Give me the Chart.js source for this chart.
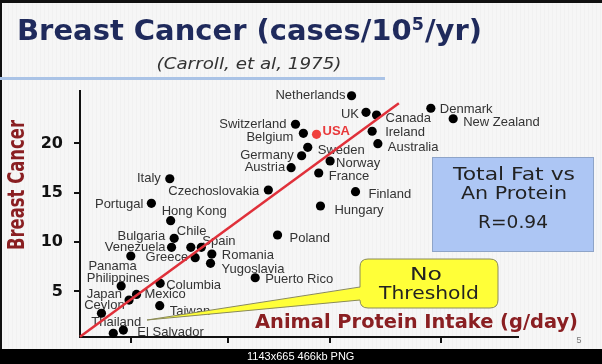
<!DOCTYPE html>
<html>
<head>
<meta charset="utf-8">
<script src="https://cdn.jsdelivr.net/npm/chart.js@4.4.1/dist/chart.umd.min.js"></script>
<style>
  html, body { margin: 0; padding: 0; background: #f6f6f6; }
  #wrap { width: 602px; height: 364px; position: relative; }
</style>
</head>
<body>
<div id="wrap"><canvas id="c"></canvas></div>
<script>
// ---- data ----
const countries = ["Netherlands","UK","Canada","Denmark","New Zealand","Switzerland","Belgium","USA","Ireland","Australia","Sweden","Germany","Norway","Austria","France","Czechoslovakia","Finland","Hungary","Italy","Portugal","Hong Kong","Bulgaria","Venezuela","Chile","Spain","Greece","Romania","Yugoslavia","Panama","Philippines","Columbia","Japan","Mexico","Ceylon","Taiwan","Thailand","El Salvador","Puerto Rico","Poland"];
const proteinIntake = [62.0,65.3,67.7,80.1,85.2,49.2,51.0,54.0,66.7,68.0,52.0,50.6,57.1,48.2,54.5,43.0,62.9,54.9,20.5,16.3,20.7,21.5,20.9,25.3,27.7,26.3,30.1,29.8,11.6,9.4,18.3,11.2,12.9,4.9,18.2,7.6,9.9,40.0,45.1];
const cancerRate    = [24.83,23.15,22.88,23.56,22.50,21.94,21.02,20.92,21.23,19.97,19.60,18.75,18.22,17.54,17.00,15.28,15.11,13.66,16.42,13.93,12.17,10.38,9.47,9.47,9.47,8.42,8.79,7.85,8.59,5.55,5.82,4.13,4.70,2.79,3.56,0.76,1.09,6.39,10.72];
const fitLineX = [0, 72.8];
const fitLineY = [0.42, 24.06];
const yTickValues = [5, 10, 15, 20];
const xTickValues = [11.6, 33.8, 57.1, 82.4];

// label placement: [align, dx, dy]
const labelPlacement = {
  "Netherlands":["right",-6,0], "UK":["right",-7,2], "Canada":["left",9,3], "Denmark":["left",9,1],
  "New Zealand":["left",10,4], "Switzerland":["right",-9,0], "Belgium":["right",-10,4], "USA":["left",6,-3],
  "Ireland":["left",13,1], "Australia":["left",10,4], "Sweden":["left",10,3], "Germany":["right",-8,0],
  "Norway":["left",6,2], "Austria":["right",-6,0], "France":["left",10,3], "Czechoslovakia":["right",-9,1],
  "Finland":["left",13,3], "Hungary":["left",14,4], "Italy":["right",-9,0], "Portugal":["right",-8,1],
  "Hong Kong":["left",-9,-9], "Bulgaria":["right",-9,-2], "Venezuela":["right",-6,0], "Chile":["left",-14,-16],
  "Spain":["left",1,-6], "Greece":["right",-7,0], "Romania":["left",10,1], "Yugoslavia":["left",11,6],
  "Panama":["right",6,10], "Philippines":["center",-3,-8], "Columbia":["left",6,2], "Japan":["right",-7,-6],
  "Mexico":["left",8,0], "Ceylon":["center",3,-8], "Taiwan":["left",10,6], "Thailand":["center",3,-11],
  "El Salvador":["left",14,2], "Puerto Rico":["left",10,2], "Poland":["left",12,3]
};

function fitText(ctx, text, x, y, width, font, color, align) {
  ctx.save();
  ctx.font = font; ctx.fillStyle = color; ctx.textBaseline = 'middle'; ctx.textAlign = 'left';
  const w = ctx.measureText(text).width;
  const s = width / w;
  const left = align === 'center' ? x - width / 2 : x;
  ctx.translate(left, y); ctx.scale(s, 1);
  ctx.fillText(text, 0, 0);
  ctx.restore();
}

function roundRect(ctx, x, y, w, h, r) {
  ctx.beginPath();
  ctx.moveTo(x + r, y); ctx.lineTo(x + w - r, y); ctx.quadraticCurveTo(x + w, y, x + w, y + r);
  ctx.lineTo(x + w, y + h - r); ctx.quadraticCurveTo(x + w, y + h, x + w - r, y + h);
  ctx.lineTo(x + r, y + h); ctx.quadraticCurveTo(x, y + h, x, y + h - r);
  ctx.lineTo(x, y + r); ctx.quadraticCurveTo(x, y, x + r, y);
  ctx.closePath();
}

const decor = {
  id: 'decor',
  beforeDraw(chart) {
    const ctx = chart.ctx;
    ctx.save();
    ctx.fillStyle = '#f6f6f6'; ctx.fillRect(0, 0, 602, 364);
    // faint stripes
    ctx.fillStyle = 'rgba(0,0,0,0.018)';
    for (let x = 0; x < 602; x += 4) ctx.fillRect(x, 0, 1, 364);
    // top frame
    ctx.fillStyle = '#111'; ctx.fillRect(0, 0, 602, 3); ctx.fillRect(0, 0, 2, 364);
    // blue rule under subtitle
    ctx.fillStyle = '#aac3e6'; ctx.fillRect(0, 77, 385, 3);
    // title with superscript
    const tf = 'bold 28px "DejaVu Sans"';
    ctx.font = tf;
    const p1 = 'Breast Cancer (cases/10', p3 = '/yr)';
    const sf = 'bold 17px "DejaVu Sans"';
    const w1 = ctx.measureText(p1).width, w3 = ctx.measureText(p3).width;
    ctx.font = sf; const w2 = ctx.measureText('5').width + 1;
    const s = 465 / (w1 + w2 + w3);
    ctx.translate(17, 33); ctx.scale(s, 1);
    ctx.fillStyle = '#1f2a5c'; ctx.textBaseline = 'middle'; ctx.textAlign = 'left';
    ctx.font = tf; ctx.fillText(p1, 0, 0);
    ctx.font = sf; ctx.fillText('5', w1, -7);
    ctx.font = tf; ctx.fillText(p3, w1 + w2, 0);
    ctx.restore();
    fitText(ctx, '(Carroll, et al, 1975)', 249, 65, 185, 'oblique 15px "DejaVu Sans"', '#333', 'center');
  },
  beforeDatasetsDraw(chart) {
    const ctx = chart.ctx;
    const meta = chart.getDatasetMeta(1);
    ctx.save();
    ctx.textBaseline = 'middle';
    countries.forEach((name, i) => {
      const el = meta.data[i];
      const [align, dx, dy] = labelPlacement[name];
      if (name === 'USA') { ctx.font = 'bold 13px "Liberation Sans"'; ctx.fillStyle = '#e8383a'; }
      else { ctx.font = '13px "Liberation Sans"'; ctx.fillStyle = '#333'; }
      ctx.textAlign = align;
      ctx.fillText(name, el.x + dx, el.y + dy);
    });
    ctx.restore();
  },
  afterDraw(chart) {
    const ctx = chart.ctx;
    ctx.save();
    // axis titles
    ctx.save();
    ctx.translate(18, 185); ctx.rotate(-Math.PI / 2);
    fitText(ctx, 'Breast Cancer', 0, 0, 130, 'bold 23px "DejaVu Sans"', '#8a1f22', 'center');
    ctx.restore();
    fitText(ctx, 'Animal Protein Intake (g/day)', 255, 323, 323, 'bold 19px "DejaVu Sans"', '#8a1f22', 'left');
    // blue box
    ctx.fillStyle = '#adc6f4'; ctx.fillRect(432, 157, 162, 95);
    ctx.strokeStyle = '#8ea4c8'; ctx.lineWidth = 1; ctx.strokeRect(432.5, 157.5, 161, 94);
    fitText(ctx, 'Total Fat vs', 514, 175, 122, '18px "DejaVu Sans"', '#222', 'center');
    fitText(ctx, 'An Protein', 514, 194, 106, '18px "DejaVu Sans"', '#222', 'center');
    fitText(ctx, 'R=0.94', 513, 223, 70, '18px "DejaVu Sans"', '#222', 'center');
    // callout
    ctx.fillStyle = '#ffff38'; ctx.strokeStyle = '#8a8a5a'; ctx.lineWidth = 1;
    roundRect(ctx, 360, 259, 138, 49, 8);
    ctx.fill(); ctx.stroke();
    ctx.beginPath();
    ctx.moveTo(362, 287); ctx.lineTo(147, 320); ctx.lineTo(362, 300); ctx.closePath();
    ctx.fill();
    ctx.beginPath(); ctx.moveTo(360, 287); ctx.lineTo(147, 320); ctx.lineTo(360, 300); ctx.stroke();
    fitText(ctx, 'No', 426, 275, 32, '18px "DejaVu Sans"', '#222', 'center');
    fitText(ctx, 'Threshold', 429, 294, 100, '18px "DejaVu Sans"', '#222', 'center');
    // slide number
    ctx.fillStyle = '#777'; ctx.font = '9px "Liberation Sans"'; ctx.textAlign = 'center'; ctx.textBaseline = 'middle';
    ctx.fillText('5', 579, 341);
    // bottom bar
    ctx.fillStyle = '#000'; ctx.fillRect(0, 349, 602, 15);
    ctx.fillStyle = '#fff'; ctx.font = '11px "Liberation Sans"'; ctx.textAlign = 'left';
    ctx.fillText('1143x665 466kb PNG', 247, 357);
    ctx.restore();
  }
};

new Chart(document.getElementById('c'), {
  type: 'scatter',
  data: {
    datasets: [
      {
        type: 'line',
        data: fitLineX.map((x, i) => ({ x, y: fitLineY[i] })),
        borderColor: '#e0303a', borderWidth: 2.5, pointRadius: 0, fill: false, order: 0, clip: false
      },
      {
        data: proteinIntake.map((x, i) => ({ x, y: cancerRate[i] })),
        pointRadius: 4.6, pointHoverRadius: 4.6, borderWidth: 0,
        pointBackgroundColor: countries.map(c => c === 'USA' ? '#f0403c' : '#000'),
        order: 1, clip: false
      }
    ]
  },
  options: {
    responsive: true, maintainAspectRatio: false, animation: false,
    events: [],
    layout: { padding: { top: 91, right: 84, bottom: 0, left: 0 } },
    plugins: { legend: { display: false }, tooltip: { enabled: false } },
    scales: {
      x: {
        type: 'linear', min: 0, max: 100,
        afterFit(s) { s.height = 27; },
        afterBuildTicks(s) { s.ticks = xTickValues.map(v => ({ value: v })); },
        ticks: { display: false },
        grid: { drawOnChartArea: false, drawTicks: true, tickLength: 6, color: '#111', lineWidth: 2 },
        border: { display: true, color: '#111', width: 2 }
      },
      y: {
        type: 'linear', min: 0.385, max: 25.31,
        afterFit(s) { s.width = 80; },
        afterBuildTicks(s) { s.ticks = yTickValues.map(v => ({ value: v })); },
        ticks: { padding: 11, color: '#111', font: { family: 'DejaVu Sans', weight: 'bold', size: 16 }, callback: v => String(v) },
        grid: { drawOnChartArea: false, drawTicks: true, tickLength: 6, color: '#111', lineWidth: 2 },
        border: { display: true, color: '#111', width: 2 }
      }
    }
  },
  plugins: [decor]
});
</script>
</body>
</html>
